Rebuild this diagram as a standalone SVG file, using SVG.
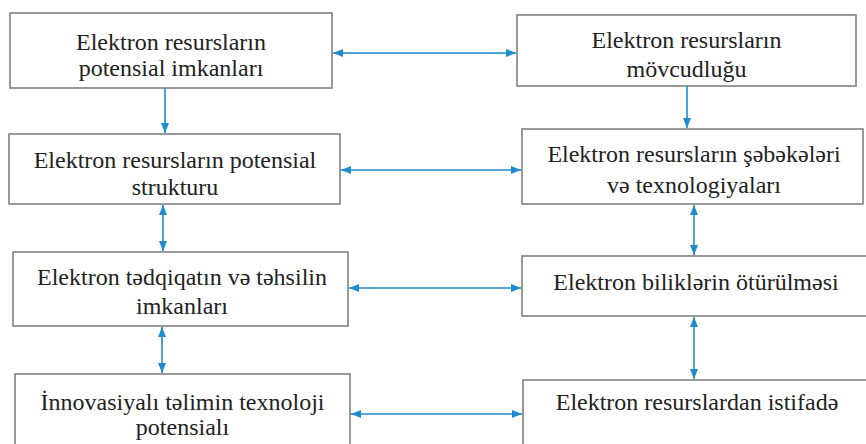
<svg xmlns="http://www.w3.org/2000/svg" width="866" height="444" viewBox="0 0 866 444">
<style>
.box{fill:#fff;stroke:#808080;stroke-width:1.6}
.t{font-family:'Liberation Serif','DejaVu Serif',serif;font-size:24px;fill:#222;text-anchor:middle}
.c{stroke:#1e8bcd;stroke-width:1.6;fill:none}
</style>
<defs>
<marker id="ah" viewBox="0 0 10 8" refX="10" refY="4" markerWidth="10" markerHeight="8" markerUnits="userSpaceOnUse" orient="auto-start-reverse">
<path d="M0,0 L10,4 L0,8 z" fill="#1e8bcd"/>
</marker>
</defs>
<rect width="866" height="444" fill="#fff"/>
<g id="n1"><rect class="box" x="10" y="13" width="322" height="75"/>
<text class="t" x="171" y="50" font-family="Liberation Serif">Elektron resursların</text>
<text class="t" x="171" y="76" font-family="Liberation Serif">potensial imkanları</text></g>
<g id="n2"><rect class="box" x="517" y="15" width="339" height="71"/>
<text class="t" x="686.5" y="48">Elektron resursların</text>
<text class="t" x="686.5" y="77">mövcudluğu</text></g>
<g id="n3"><rect class="box" x="9" y="134" width="331" height="70"/>
<text class="t" x="175" y="168">Elektron resursların potensial</text>
<text class="t" x="175" y="195">strukturu</text></g>
<g id="n4"><rect class="box" x="522" y="129" width="341" height="75"/>
<text class="t" x="694" y="162">Elektron resursların şəbəkələri</text>
<text class="t" x="694" y="193">və texnologiyaları</text></g>
<g id="n5"><rect class="box" x="13" y="252" width="335" height="74"/>
<text class="t" x="182" y="285">Elektron tədqiqatın və təhsilin</text>
<text class="t" x="182" y="314">imkanları</text></g>
<g id="n6"><rect class="box" x="522" y="256" width="350" height="60"/>
<text class="t" x="696" y="290">Elektron biliklərin ötürülməsi</text></g>
<g id="n7"><rect class="box" x="15" y="374" width="335" height="80"/>
<text class="t" x="182.5" y="410">İnnovasiyalı təlimin texnoloji</text>
<text class="t" x="182.5" y="435">potensialı</text></g>
<g id="n8"><rect class="box" x="523" y="380" width="350" height="80"/>
<text class="t" x="697" y="410">Elektron resurslardan istifadə</text></g>
<g id="connectors">
<line class="c" x1="333" y1="53" x2="516" y2="53" marker-start="url(#ah)" marker-end="url(#ah)"/>
<line class="c" x1="341" y1="170" x2="521" y2="170" marker-start="url(#ah)" marker-end="url(#ah)"/>
<line class="c" x1="349" y1="288" x2="521" y2="288" marker-start="url(#ah)" marker-end="url(#ah)"/>
<line class="c" x1="351" y1="414" x2="522" y2="414" marker-start="url(#ah)" marker-end="url(#ah)"/>
<line class="c" x1="165" y1="88" x2="165" y2="133" marker-end="url(#ah)"/>
<line class="c" x1="687" y1="86" x2="687" y2="128" marker-end="url(#ah)"/>
<line class="c" x1="163" y1="205" x2="163" y2="251" marker-start="url(#ah)" marker-end="url(#ah)"/>
<line class="c" x1="694" y1="205" x2="694" y2="255" marker-start="url(#ah)" marker-end="url(#ah)"/>
<line class="c" x1="162" y1="327" x2="162" y2="373" marker-start="url(#ah)" marker-end="url(#ah)"/>
<line class="c" x1="694" y1="317" x2="694" y2="379" marker-start="url(#ah)" marker-end="url(#ah)"/>
</g>
</svg>
